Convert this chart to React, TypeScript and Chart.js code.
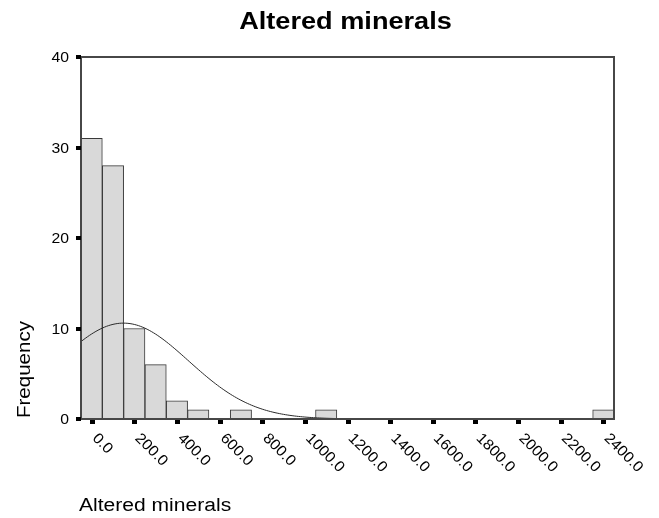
import React, { useEffect, useRef } from "react";
import { Chart, registerables } from "chart.js";

Chart.register(...registerables);

// Histogram bins (bin centres, bin width 100)
const binCenters = [
  0, 100, 200, 300, 400, 500, 600, 700, 800, 900, 1000, 1100, 1200,
  1300, 1400, 1500, 1600, 1700, 1800, 1900, 2000, 2100, 2200, 2300, 2400,
];
const frequencies = [
  31, 28, 10, 6, 2, 1, 0, 1, 0, 0, 0, 1, 0,
  0, 0, 0, 0, 0, 0, 0, 0, 0, 0, 0, 1,
];

const xTickValues = [0, 200, 400, 600, 800, 1000, 1200, 1400, 1600, 1800, 2000, 2200, 2400];
const yTickValues = [0, 10, 20, 30, 40];

// Fitted normal curve parameters
const CURVE_MEAN = 149.4;
const CURVE_SD = 305;
const SAMPLE_N = 81;
const BIN_WIDTH = 100;

const X_MIN = -50;
const X_MAX = 2450;

const TITLE = "Altered minerals";
const X_TITLE = "Altered minerals";
const Y_TITLE = "Frequency";

function normalCurve(): { x: number; y: number }[] {
  const pts: { x: number; y: number }[] = [];
  const k = (SAMPLE_N * BIN_WIDTH) / (CURVE_SD * Math.sqrt(2 * Math.PI));
  for (let x = X_MIN; x <= X_MAX; x += 10) {
    const z = (x - CURVE_MEAN) / CURVE_SD;
    pts.push({ x, y: k * Math.exp(-0.5 * z * z) });
  }
  return pts;
}

function drawText(
  ctx: CanvasRenderingContext2D,
  text: string,
  x: number,
  y: number,
  font: string,
  align: CanvasTextAlign,
  baseline: CanvasTextBaseline,
  sx = 1,
  angle = 0
) {
  ctx.save();
  ctx.translate(x, y);
  ctx.rotate(angle);
  ctx.scale(sx, 1);
  ctx.font = font;
  ctx.textAlign = align;
  ctx.textBaseline = baseline;
  ctx.fillStyle = "#000";
  ctx.fillText(text, 0, 0);
  ctx.restore();
}

const FONT = '"Liberation Sans", Arial, sans-serif';

const decorations = {
  id: "spssDecorations",
  afterDatasetsDraw(chart: any) {
    const { ctx, chartArea, scales } = chart;
    const xs = scales.x;
    const ys = scales.y;
    const { left, right, top, bottom } = chartArea;

    // frame
    ctx.save();
    ctx.strokeStyle = "#474747";
    ctx.lineWidth = 2;
    ctx.strokeRect(left, top, right - left, bottom - top);

    // tick marks
    ctx.fillStyle = "#000";
    yTickValues.forEach((v) => {
      const py = Math.round(ys.getPixelForValue(v));
      ctx.fillRect(left - 5, py - 2, 5, 4);
    });
    xTickValues.forEach((v) => {
      const px = Math.round(xs.getPixelForValue(v));
      ctx.fillRect(px - 2, bottom + 1, 5, 4);
    });
    ctx.restore();

    // tick labels
    yTickValues.forEach((v) => {
      const py = ys.getPixelForValue(v);
      drawText(ctx, String(v), left - 12, py + 5, `15px ${FONT}`, "right", "alphabetic", 1.05);
    });
    xTickValues.forEach((v) => {
      const px = xs.getPixelForValue(v);
      drawText(ctx, v.toFixed(1), px + 3, bottom + 17, `15px ${FONT}`, "left", "middle", 1.05, Math.PI / 4);
    });

    // titles
    drawText(ctx, TITLE, 345.5, 29, `bold 23px ${FONT}`, "center", "alphabetic", 1.18);
    drawText(ctx, Y_TITLE, 30, 418, `18px ${FONT}`, "left", "alphabetic", 1.14, -Math.PI / 2);
    drawText(ctx, X_TITLE, 79, 511, `18px ${FONT}`, "left", "alphabetic", 1.17);
  },
};

export default function App() {
  const canvasRef = useRef<HTMLCanvasElement | null>(null);

  useEffect(() => {
    const canvas = canvasRef.current;
    if (!canvas) return;
    const chart = new Chart(canvas, {
      type: "bar",
      data: {
        datasets: [
          {
            type: "line",
            data: normalCurve(),
            borderColor: "#2b2b2b",
            borderWidth: 1,
            pointRadius: 0,
            tension: 0,
            fill: false,
            order: 0,
          } as any,
          {
            type: "bar",
            data: binCenters.map((x, i) => ({ x, y: frequencies[i] })),
            backgroundColor: "#d9d9d9",
            borderColor: "#3a3a3a",
            borderWidth: 1,
            barPercentage: 1,
            categoryPercentage: 1,
            order: 1,
          } as any,
        ],
      },
      options: {
        responsive: false,
        animation: false,
        events: [],
        layout: { padding: { left: 81, top: 57, right: 45, bottom: 99 } },
        plugins: {
          legend: { display: false },
          tooltip: { enabled: false },
          title: { display: false },
        },
        scales: {
          x: {
            type: "linear",
            min: X_MIN,
            max: X_MAX,
            offset: false,
            display: false,
          },
          y: {
            type: "linear",
            min: 0,
            max: 40,
            display: false,
          },
        },
      },
      plugins: [decorations],
    });
    return () => chart.destroy();
  }, []);

  return (
    <div style={{ position: "fixed", left: 0, top: 0, width: 659, height: 518, background: "#fff" }}>
      <canvas ref={canvasRef} width={659} height={518} />
    </div>
  );
}
